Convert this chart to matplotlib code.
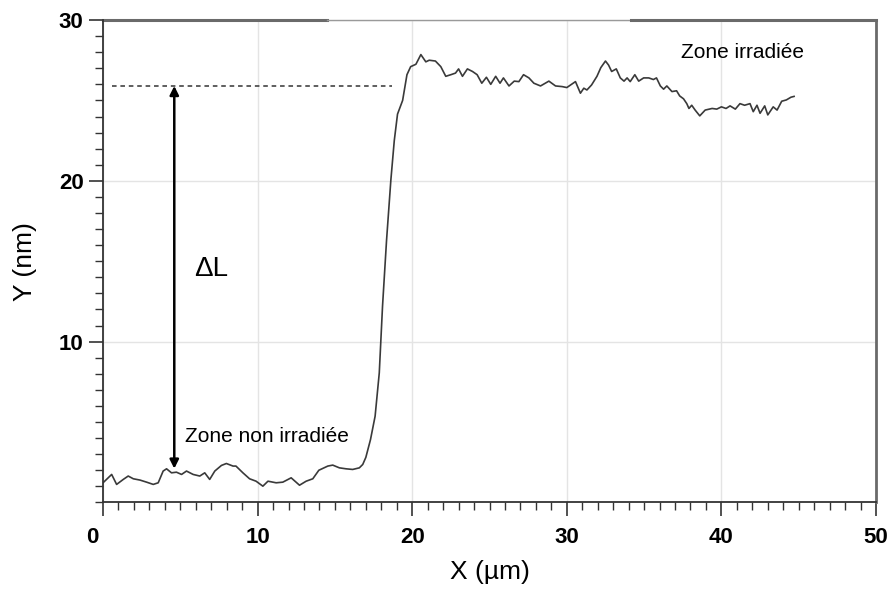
import matplotlib
matplotlib.use("Agg")
import matplotlib.pyplot as plt
import matplotlib.transforms as mtransforms
from matplotlib.ticker import MultipleLocator

plt.rcParams["font.family"] = ["Liberation Sans", "DejaVu Sans"]

# profile (x in um, y in nm)
x_um = [0.0, 0.56, 0.88, 1.31, 1.63, 1.96, 2.39, 2.82, 3.25, 3.57, 3.89, 4.11,
        4.43, 4.75, 5.08, 5.4, 5.83, 6.26, 6.58, 6.9, 7.23, 7.66, 7.98, 8.41,
        8.6, 9.05, 9.48, 9.9, 10.34, 10.67, 11.2, 11.63, 12.17, 12.71, 13.14,
        13.57, 13.96, 14.54, 14.86, 15.29, 15.72, 16.15, 16.58, 16.8, 17.0,
        17.3, 17.6, 17.87, 18.08, 18.34, 18.62, 18.84, 19.05, 19.38, 19.66,
        19.9, 20.24, 20.56, 20.88, 21.1, 21.5, 21.85, 22.17, 22.5, 22.8, 23.0,
        23.25, 23.57, 23.9, 24.2, 24.5, 24.8, 25.08, 25.4, 25.68, 25.9, 26.26,
        26.6, 26.9, 27.2, 27.55, 27.87, 28.3, 28.84, 29.27, 29.7, 30.0, 30.24,
        30.56, 30.88, 31.1, 31.3, 31.6, 31.95, 32.2, 32.5, 32.7, 32.9, 33.2,
        33.46, 33.7, 33.9, 34.1, 34.4, 34.65, 34.97, 35.3, 35.6, 35.8, 36.05,
        36.26, 36.47, 36.8, 37.1, 37.3, 37.55, 37.76, 37.9, 38.08, 38.3, 38.6,
        38.95, 39.4, 39.7, 40.0, 40.3, 40.56, 40.9, 41.2, 41.5, 41.85, 42.06,
        42.3, 42.5, 42.8, 43.0, 43.35, 43.6, 43.9, 44.2, 44.5, 44.7]
y_nm = [1.22, 1.74, 1.12, 1.43, 1.64, 1.47, 1.39, 1.26, 1.12, 1.22, 1.95, 2.09,
        1.84, 1.88, 1.74, 1.95, 1.74, 1.64, 1.84, 1.43, 1.95, 2.30, 2.42, 2.26,
        2.26, 1.84, 1.47, 1.32, 1.01, 1.32, 1.22, 1.26, 1.53, 1.07, 1.32,
        1.47, 2.0, 2.26, 2.32, 2.15, 2.09, 2.05, 2.15, 2.36, 2.8,
        3.9, 5.36, 8.06, 12.2, 16.3, 20.06, 22.5, 24.15, 25.0, 26.6,
        27.1, 27.25, 27.85, 27.4, 27.5, 27.45, 27.1, 26.5, 26.6, 26.7, 26.96,
        26.5, 26.96, 26.8, 26.6, 26.07, 26.44, 26.0, 26.5, 26.07, 26.4, 25.9,
        26.2, 26.17, 26.6, 26.4, 26.07, 25.9, 26.2, 25.9, 25.86, 25.8, 25.96,
        26.17, 25.45, 25.76, 25.65, 25.96, 26.5, 27.04, 27.45, 27.2, 26.8, 26.96,
        26.4, 26.2, 26.4, 26.17, 26.6, 26.2, 26.4, 26.4, 26.3, 26.4, 25.9,
        25.7, 25.9, 25.55, 25.6, 25.28, 25.1, 24.8, 24.5, 24.7, 24.4, 24.04,
        24.4, 24.5, 24.46, 24.6, 24.5, 24.66, 24.46, 24.8, 24.7, 24.8, 24.3,
        24.7, 24.2, 24.66, 24.1, 24.6, 24.4, 24.95, 25.03, 25.2, 25.25]

x_ticks = [0, 10, 20, 30, 40, 50]
y_ticks = [10, 20, 30]

step_level = 25.9
dashed_x = [0.56, 18.67]
arrow_x = 4.61
arrow_bottom = 2.1

fig = plt.figure(figsize=(8.88, 5.89), dpi=100)
ax = fig.add_axes([0.116, 0.147, 0.8705, 0.819])

ax.grid(True, color="#e4e4e4", linewidth=1.0)
ax.set_axisbelow(True)

ax.plot(x_um, y_nm, color="#3a3a3a", linewidth=1.2)
ax.plot(dashed_x, [step_level, step_level], color="#333333",
        linestyle=(0, (3, 2.5)), linewidth=1.1)

ax.annotate("", xy=(arrow_x, step_level), xytext=(arrow_x, arrow_bottom),
            arrowprops=dict(arrowstyle="<|-|>", color="black", lw=1.8,
                            mutation_scale=13, shrinkA=0, shrinkB=0))

ax.text(5.9, 14.5, "ΔL", fontsize=20, va="center", ha="left")
ax.text(5.3, 4.1, "Zone non irradiée", fontsize=15, va="center", ha="left")
ax.text(37.4, 27.95, "Zone irradiée", fontsize=15, va="center", ha="left")

ax.set_xlim(0, 50)
ax.set_ylim(0, 30)
ax.set_xticks(x_ticks)
ax.set_yticks(y_ticks)
ax.xaxis.set_minor_locator(MultipleLocator(1))
ax.yaxis.set_minor_locator(MultipleLocator(1))

ax.tick_params(which="major", direction="out", length=10, width=1.2,
               labelsize=16, color="#333333")
ax.tick_params(axis="x", which="major", pad=8)
ax.tick_params(axis="y", which="major", pad=4)
ax.tick_params(which="minor", direction="out", length=6, width=1.0,
               color="#333333")
for lab in ax.get_xticklabels() + ax.get_yticklabels():
    lab.set_fontweight("bold")

# the "0" under the corner sits a bit to the left
zero_lab = ax.xaxis.get_major_ticks()[0].label1
zero_lab.set_transform(zero_lab.get_transform() +
                       mtransforms.ScaledTranslation(-11 / 100, 0,
                                                     fig.dpi_scale_trans))

# the top frame is drawn in pieces, lighter in the middle
ax.spines["top"].set_visible(False)
ax.plot([0, 0.29], [1, 1], transform=ax.transAxes, color="#6a6a6a",
        linewidth=2.2, clip_on=False)
ax.plot([0.29, 0.683], [1, 1], transform=ax.transAxes, color="#9a9a9a",
        linewidth=1.0, clip_on=False)
ax.plot([0.683, 1], [1, 1], transform=ax.transAxes, color="#6a6a6a",
        linewidth=2.2, clip_on=False)
ax.spines["right"].set_color("#6a6a6a")
ax.spines["right"].set_linewidth(2.0)
ax.spines["left"].set_color("#333333")
ax.spines["left"].set_linewidth(1.3)
ax.spines["bottom"].set_color("#333333")
ax.spines["bottom"].set_linewidth(1.3)

ax.set_xlabel("X (µm)", fontsize=19, labelpad=8)
ax.set_ylabel("Y (nm)", fontsize=19, labelpad=16)

fig.savefig("out.png", dpi=100)
